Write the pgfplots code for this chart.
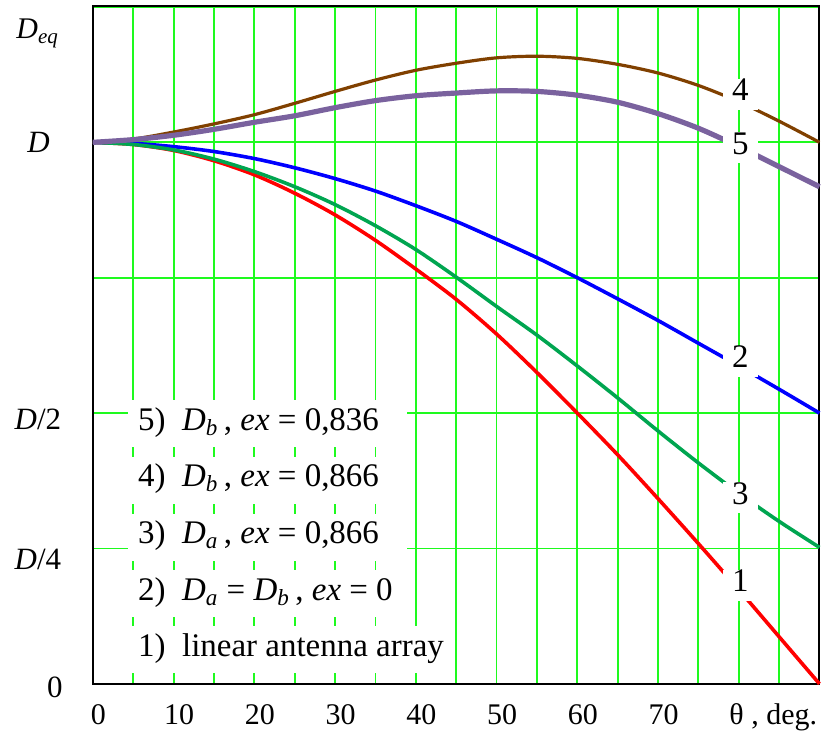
\documentclass[border=0pt]{standalone}
\usepackage{fontspec}
\setmainfont{Liberation Serif}
\usepackage{pgfplots}
\pgfplotsset{compat=1.18}

\definecolor{gridgreen}{RGB}{30,250,30}
\definecolor{c1}{RGB}{255,0,0}
\definecolor{c2}{RGB}{0,0,255}
\definecolor{c3}{RGB}{0,165,80}
\definecolor{c4}{RGB}{128,64,0}
\definecolor{c5}{RGB}{122,98,158}

\newcommand{\tickfont}{\fontsize{15bp}{18bp}\selectfont}
\newcommand{\labfont}{\fontsize{16.5bp}{19bp}\selectfont}
\newcommand{\Dx}[1]{\textit{D}\textsubscript{\textit{#1}}}

\begin{document}
\begin{tikzpicture}
\useasboundingbox (-46.5bp,-24.15bp) rectangle (367.5bp,342.35bp);
\begin{axis}[
    at={(0,0)}, anchor=south west,
    scale only axis, width=363.75bp, height=339.5bp,
    xmin=0, xmax=90, ymin=0, ymax=1.2523,
    xtick={0,5,...,85},
    xticklabels={0,,10,,20,,30,,40,,50,,60,,70,,,},
    ytick={0,0.25,0.5,0.75,1,1.25},
    yticklabels={,,,,,},
    grid=major,
    major grid style={gridgreen, line width=0.9bp},
    major tick length=0pt,
    axis line style={line width=1bp},
    xticklabel style={font=\tickfont, anchor=base, inner sep=0pt,
        yshift=-20.5bp, xshift=2.75bp},
    clip=false,
]

% 1) linear antenna array
\addplot[smooth, c1, line width=1.8bp] coordinates {
    (0,1.000) (5,0.996) (10,0.985) (15,0.966) (20,0.940) (25,0.906)
    (30,0.866) (35,0.819) (40,0.766) (45,0.710) (50,0.646) (55,0.575)
    (60,0.500) (65,0.423) (70,0.342) (75,0.259) (80,0.174) (85,0.087) (90,0.000)};
% 2) Da = Db, ex = 0
\addplot[smooth, c2, line width=1.8bp] coordinates {
    (0,1.000) (5,0.998) (10,0.992) (15,0.983) (20,0.970) (25,0.953)
    (30,0.933) (35,0.910) (40,0.883) (45,0.854) (50,0.821) (55,0.787)
    (60,0.750) (65,0.711) (70,0.671) (75,0.629) (80,0.587) (85,0.544) (90,0.500)};
% 3) Da, ex = 0.866
\addplot[smooth, c3, line width=1.8bp] coordinates {
    (0,1.000) (5,0.996) (10,0.986) (15,0.969) (20,0.946) (25,0.918)
    (30,0.885) (35,0.846) (40,0.802) (45,0.751) (50,0.697) (55,0.644)
    (60,0.587) (65,0.528) (70,0.467) (75,0.408) (80,0.352) (85,0.300) (90,0.252)};
% 4) Db, ex = 0.866
\addplot[smooth, c4, line width=1.6bp] coordinates {
    (0,1.000) (5,1.006) (10,1.019) (15,1.034) (20,1.051) (25,1.072)
    (30,1.094) (35,1.115) (40,1.133) (45,1.146) (50,1.156) (55,1.159)
    (60,1.155) (65,1.144) (70,1.128) (75,1.105) (80,1.075) (85,1.039) (90,1.000)};
% 5) Db, ex = 0.836
\addplot[smooth, c5, line width=2.6bp] coordinates {
    (0,1.000) (5,1.005) (10,1.013) (15,1.024) (20,1.037) (25,1.049)
    (30,1.064) (35,1.077) (40,1.086) (45,1.091) (50,1.095) (55,1.094)
    (60,1.087) (65,1.074) (70,1.053) (75,1.026) (80,0.992) (85,0.955) (90,0.918)};

% curve numbers
\begin{scope}[every node/.style={fill=white, inner sep=4.5bp, font=\labfont,
        text height=0.66em, text depth=0pt}]
  \node at (axis cs:80.2,1.089) {4};
  \node at (axis cs:80.2,0.990) {5};
  \node at (axis cs:80.2,0.596) {2};
  \node at (axis cs:80.2,0.344) {3};
  \node at (axis cs:80.2,0.182) {1};
\end{scope}

% legend text
\tikzset{legrow/.style={fill=white, anchor=west, inner xsep=5bp,
        inner ysep=0pt, font=\labfont, text height=0.66em, text depth=0pt,
        minimum height=23.5bp}}
\node[legrow] at (axis cs:4.33,0.480)
    {\makebox[129.5bp][l]{5)\ \ \Dx{b}\,, \textit{ex} = 0,836}};
\node[legrow] at (axis cs:4.33,0.376)
    {\makebox[129.5bp][l]{4)\ \ \Dx{b}\,, \textit{ex} = 0,866}};
\node[legrow] at (axis cs:4.33,0.271)
    {\makebox[129.5bp][l]{3)\ \ \Dx{a}\,, \textit{ex} = 0,866}};
\node[legrow] at (axis cs:4.33,0.167)
    {\makebox[129.5bp][l]{2)\ \ \Dx{a} = \Dx{b}\,, \textit{ex} = 0}};
\node[legrow] at (axis cs:4.33,0.063) {1)\ \ linear antenna array};

% axis labels
\node[anchor=base west, inner sep=0pt, font=\tickfont]
    at (axis cs:78.8,0) [yshift=-20.5bp] {θ , deg.};
\begin{scope}[every node/.style={anchor=base, inner sep=0pt,
        font=\fontsize{15.5bp}{18bp}\selectfont}]
  \node at (axis cs:0,-0.0245) [xshift=-19bp] {0};
  \node at (axis cs:0,0.2116) [xshift=-27.5bp] {\textit{D}/4};
  \node at (axis cs:0,0.4697) [xshift=-27.5bp] {\textit{D}/2};
  \node at (axis cs:0,0.982) [xshift=-27.25bp] {\textit{D}};
\end{scope}
\node[anchor=base west, inner sep=0pt, font=\fontsize{15bp}{18bp}\selectfont]
    at (axis cs:0,1.191) [xshift=-38.5bp] {\Dx{eq}};
\end{axis}
\end{tikzpicture}
\end{document}
